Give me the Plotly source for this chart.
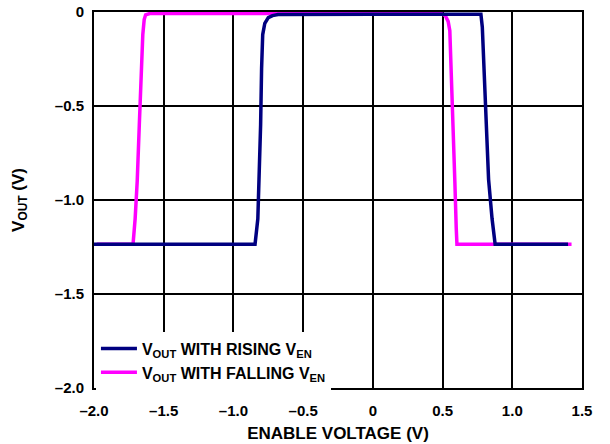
import plotly.graph_objects as go

# Rising V_EN trace (navy)
rise_x = [-2.0, -0.845, -0.825, -0.815, -0.805, -0.798, -0.79, -0.775, -0.75, -0.72, -0.68, 0.0,
          0.775, 0.785, 0.793, 0.80, 0.83, 0.855, 0.877, 1.40]
rise_y = [-1.235, -1.235, -1.10, -0.90, -0.60, -0.30, -0.12, -0.06, -0.03, -0.019, -0.013, -0.012,
          -0.012, -0.08, -0.22, -0.40, -0.89, -1.10, -1.235, -1.235]

# Falling V_EN trace (magenta)
fall_x = [-1.98, -1.72, -1.705, -1.69, -1.675, -1.66, -1.65, -1.64, -1.63, -1.60, 0.0,
          0.49, 0.52, 0.54, 0.552, 0.562, 0.575, 0.588, 0.598, 0.603, 1.425]
fall_y = [-1.235, -1.235, -1.10, -0.90, -0.60, -0.30, -0.12, -0.04, -0.015, -0.008, -0.008,
          -0.008, -0.02, -0.05, -0.10, -0.30, -0.60, -0.90, -1.15, -1.235, -1.235]

x_ticks = [-2.0, -1.5, -1.0, -0.5, 0.0, 0.5, 1.0, 1.5]
x_tick_labels = ["–2.0", "–1.5", "–1.0", "–0.5", "0", "0.5", "1.0", "1.5"]
y_ticks = [0.0, -0.5, -1.0, -1.5, -2.0]
y_tick_labels = ["0", "–0.5", "–1.0", "–1.5", "–2.0"]

FONT = "Liberation Sans, Arial, sans-serif"
TICK = dict(family=FONT, size=15, color="black", weight="bold")
TITLE = dict(family=FONT, size=17, color="black", weight="bold")

fig = go.Figure()
fig.add_trace(go.Scatter(x=fall_x, y=fall_y, mode="lines",
                         line=dict(color="#ff00ff", width=3.5),
                         name="V<sub>OUT</sub> WITH FALLING V<sub>EN</sub>", legendrank=2))
fig.add_trace(go.Scatter(x=rise_x, y=rise_y, mode="lines",
                         line=dict(color="#000080", width=3.5),
                         name="V<sub>OUT</sub> WITH RISING V<sub>EN</sub>", legendrank=1))

fig.update_layout(
    width=610, height=444,
    margin=dict(l=94, r=28, t=12, b=56, autoexpand=False),
    paper_bgcolor="white", plot_bgcolor="white",
    font=dict(family=FONT, size=15, color="black", weight="bold"),
    showlegend=True,
    legend=dict(x=0.004, y=0.15, xanchor="left", yanchor="top",
                bgcolor="white", borderwidth=0,
                font=dict(family=FONT, size=16, color="black", weight="bold"),
                itemwidth=36, tracegroupgap=0),
)
fig.update_xaxes(range=[-2.0, 1.5], tickvals=x_ticks, ticktext=x_tick_labels,
                 showgrid=True, gridcolor="black", gridwidth=1.5,
                 showline=True, linecolor="black", linewidth=2, mirror=True,
                 zeroline=False, ticks="", ticklen=0, automargin=False,
                 ticklabelstandoff=8, tickfont=TICK,
                 title=dict(text="ENABLE VOLTAGE (V)", standoff=9, font=TITLE))
fig.update_yaxes(range=[-2.0, 0.0], tickvals=y_ticks, ticktext=y_tick_labels,
                 showgrid=True, gridcolor="black", gridwidth=1.5,
                 showline=True, linecolor="black", linewidth=2, mirror=True,
                 zeroline=False, ticks="", ticklen=0, automargin=False,
                 ticklabelstandoff=5, tickfont=TICK,
                 title=dict(text="V<sub>OUT</sub> (V)", standoff=26, font=TITLE))

fig.write_html("out.html", config={"displayModeBar": False},
               post_script="document.body.style.margin='0';")
